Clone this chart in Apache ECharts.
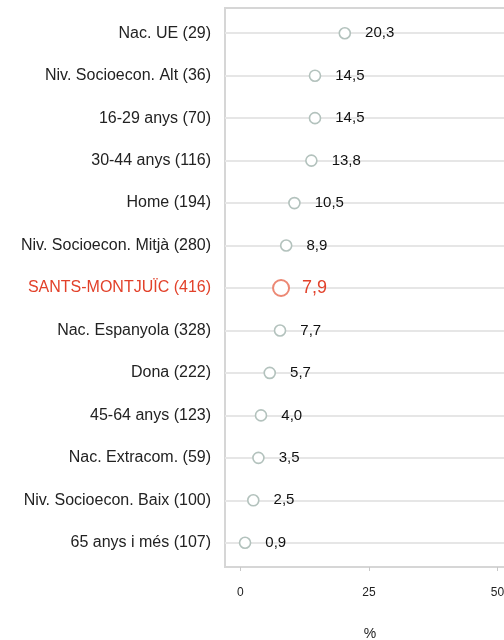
<!DOCTYPE html>
<html>
<head>
<meta charset="utf-8">
<script src="https://cdn.jsdelivr.net/npm/echarts@6/dist/echarts.min.js"></script>
<style>
  html, body { margin: 0; padding: 0; background: #fff; }
  #chart { width: 504px; height: 640px; }
</style>
</head>
<body>
<div id="chart"></div>
<script>
// categories top to bottom
const categories = [
    'Nac. UE (29)',
    'Niv. Socioecon. Alt (36)',
    '16-29 anys (70)',
    '30-44 anys (116)',
    'Home (194)',
    'Niv. Socioecon. Mitjà (280)',
    'SANTS-MONTJUÏC (416)',
    'Nac. Espanyola (328)',
    'Dona (222)',
    '45-64 anys (123)',
    'Nac. Extracom. (59)',
    'Niv. Socioecon. Baix (100)',
    '65 anys i més (107)'
];
const values = [20.3, 14.5, 14.5, 13.8, 10.5, 8.9, 7.9, 7.7, 5.7, 4.0, 3.5, 2.5, 0.9];
const highlight = 'SANTS-MONTJUÏC (416)';
const xTicks = [0, 25, 50];

const RED = '#e2412a';
const fmt = v => v.toFixed(1).replace('.', ',');

let myChart = echarts.init(document.getElementById('chart'));

let seriesData = values.map((v, i) => {
    let isHl = categories[i] === highlight;
    return {
        value: [v, categories[i]],
        symbolSize: isHl ? 16 : 11,
        itemStyle: {
            color: '#fff',
            opacity: 1,
            borderColor: isHl ? '#ec8874' : '#b3c2bd',
            borderWidth: isHl ? 2 : 1.6
        },
        label: {
            color: isHl ? RED : '#111',
            fontSize: isHl ? 18 : 15,
            distance: isHl ? 12 : 14
        }
    };
});

let option = {
    animation: false,
    textStyle: { fontFamily: 'Liberation Sans, Arial, sans-serif' },
    grid: [
        { left: 225, width: 290, top: 12, bottom: 76, outerBoundsMode: 'none' },
        { left: 225, width: 290, top: 8, bottom: 73, outerBoundsMode: 'none', show: true, borderColor: '#d6d6d6', borderWidth: 2 }
    ],
    xAxis: [
        { gridIndex: 0, type: 'value', min: -3, max: 53.4, show: false },
        {
            gridIndex: 1,
            type: 'value',
            min: -3,
            max: 53.4,
            axisLine: { show: false },
            splitLine: { show: false },
            axisTick: { show: true, customValues: xTicks, length: 4, lineStyle: { color: '#c8c8c8' } },
            axisLabel: { customValues: xTicks, fontSize: 12, color: '#222', margin: 20 },
            name: '%',
            nameLocation: 'middle',
            nameGap: 60,
            nameTextStyle: { fontSize: 14, color: '#222' }
        }
    ],
    yAxis: [
        {
            gridIndex: 0,
            type: 'category',
            data: categories,
            inverse: true,
            axisLine: { show: false },
            axisTick: { show: false },
            splitLine: { show: false },
            axisLabel: {
                fontSize: 16,
                color: '#222',
                margin: 14,
                formatter: v => v === highlight ? '{hl|' + v + '}' : v,
                rich: { hl: { color: RED, fontSize: 16 } }
            }
        },
        { gridIndex: 1, type: 'value', show: false }
    ],
    series: [
        {
            // horizontal guide lines at each category
            type: 'scatter',
            xAxisIndex: 0,
            yAxisIndex: 0,
            data: [],
            z: 1,
            silent: true,
            markLine: {
                silent: true,
                z: 1,
                symbol: 'none',
                label: { show: false },
                lineStyle: { color: '#e6e6e6', width: 2, type: 'solid' },
                data: categories.map(c => ({ yAxis: c }))
            }
        },
        {
            type: 'scatter',
            xAxisIndex: 0,
            yAxisIndex: 0,
            symbol: 'circle',
            z: 3,
            data: seriesData,
            itemStyle: { opacity: 1 },
            label: {
                show: true,
                position: 'right',
                textBorderWidth: 0,
                opacity: 1,
                formatter: p => fmt(p.value[0])
            }
        }
    ]
};
myChart.setOption(option);
</script>
</body>
</html>
